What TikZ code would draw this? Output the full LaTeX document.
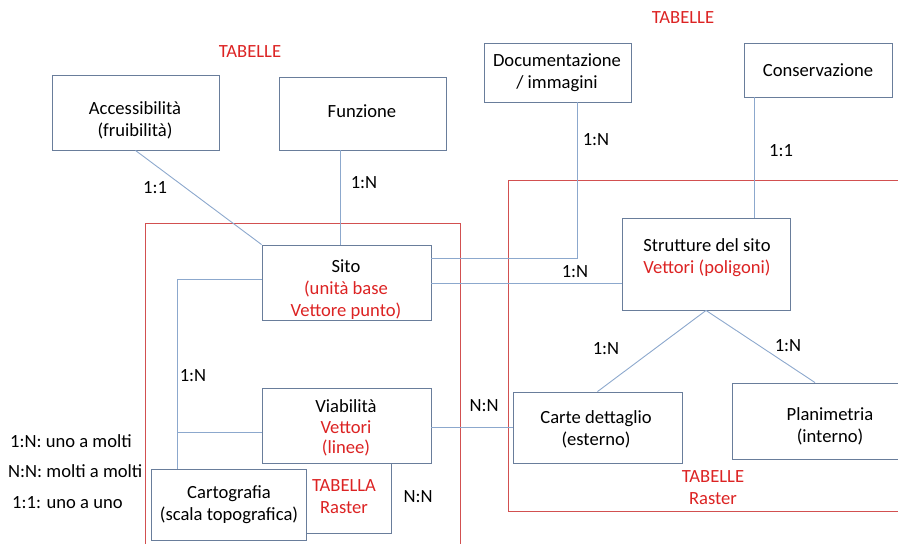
\documentclass[tikz,border=0pt]{standalone}
\usepackage{fontspec}
\setmainfont{Carlito}
\usetikzlibrary{positioning}
\definecolor{linkblue}{RGB}{140,168,205}
\definecolor{boxgray}{RGB}{105,125,155}
\definecolor{redline}{RGB}{210,80,80}
\definecolor{redtext}{RGB}{220,35,35}
\tikzset{
  box/.style={draw=boxgray, line width=0.9pt, rectangle, inner sep=0pt},
  txt/.style={align=center, inner sep=1pt, font=\fontsize{18.6}{22}\selectfont},
  rtxt/.style={txt, text=redtext},
  link/.style={draw=linkblue, line width=0.9pt},
  redbox/.style={draw=redline, line width=0.9pt}
}
\begin{document}
\begin{tikzpicture}[x=1pt, y=-1pt]
  \useasboundingbox (0,0) rectangle (898,544);
  % red frames
  \draw[redbox] (898,180.5) -- (508.5,180.5) -- (508.5,511.5) -- (898,511.5);
  \draw[redbox] (145.5,544) -- (145.5,223.5) -- (460.5,223.5) -- (460.5,544);

  % boxes
  \node[box, minimum width=167pt, minimum height=75pt] (access) at (135.5,112.5) {};
  \node[box, minimum width=167pt, minimum height=73pt] (funz) at (362.5,113.5) {};
  \node[box, minimum width=147pt, minimum height=59pt] (doc) at (557.5,72.5) {};
  \node[box, minimum width=148pt, minimum height=54pt] (cons) at (818,70) {};
  \node[box, minimum width=169pt, minimum height=75pt] (sito) at (346.5,282.5) {};
  \node[box, minimum width=168pt, minimum height=92pt] (strut) at (706,264) {};
  \node[box, minimum width=169pt, minimum height=75pt] (viab) at (346.5,425.5) {};
  \node[box, minimum width=169pt, minimum height=71pt] (carte) at (597.5,427.5) {};
  \node[box, minimum width=166pt, minimum height=76pt] (plan) at (815,421) {};
  \node[box, minimum width=155pt, minimum height=71pt, fill=white] (carto) at (228.5,504.5) {};

  % box texts
  \node[txt] (accesst) at (135,120) {Accessibilità\\(fruibilità)};
  \node[txt] (funzt) at (362,111) {Funzione};
  \node[txt] (doct) at (557,73) {Documentazione\\/ immagini};
  \node[txt] (const) at (818,70) {Conservazione};
  \node[txt] (sitot) at (346,290) {Sito\\{\color{redtext}(unità base}\\{\color{redtext}Vettore punto)}};
  \node[txt] (strutt) at (707,258) {Strutture del sito\\{\color{redtext}Vettori (poligoni)}};
  \node[txt, font=\fontsize{18.6}{20.5}\selectfont] (viabt) at (346,428) {Viabilità\\{\color{redtext}Vettori}\\{\color{redtext}(linee)}};
  \node[txt] (cartet) at (596,429) {Carte dettaglio\\(esterno)};
  \node[txt] (plant) at (830,426) {Planimetria\\(interno)};
  \node[txt] (cartot) at (229,505) {Cartografia\\(scala topografica)};

  % red labels
  \node[rtxt] (tabA) at (250,52) {TABELLE};
  \node[rtxt] (tabB) at (683,18) {TABELLE};
  \node[rtxt] (tabC) at (713,488) {TABELLE\\Raster};
  \node[rtxt] (tabD) at (344,497) {TABELLA\\Raster};

  % connectors
  \coordinate (fx) at (340,0);
  \coordinate (dx) at (577,258);
  \coordinate (cx) at (754,0);
  \coordinate (sy) at (0,283);
  \coordinate (lx) at (177,279);
  \coordinate (vy) at (0,432);
  \coordinate (rb) at (391,533);
  \draw[link] (access.south) -- (sito.north west);
  \draw[link] (funz.south -| fx) -- (sito.north -| fx);
  \draw[link] (doc.south -| dx) -- (dx) -- (sito.east |- dx);
  \draw[link] (cons.south -| cx) -- (strut.north -| cx);
  \draw[link] (sito.east |- sy) -- (strut.west |- sy);
  \draw[link] (strut.south) -- (carte.north);
  \draw[link] (strut.south) -- (plan.north);
  \draw[link] (viab.east |- carte.west) -- (carte.west);
  \draw[link] (sito.west |- lx) -- (lx) -- (carto.north -| lx);
  \draw[link] (viab.west |- vy) -- (lx |- vy);
  \draw[box] (carto.east |- rb) -- (rb) -- (rb |- viab.south);

  % cardinality labels
  \node[txt] (c1) at (155,188) {1:1};
  \node[txt] (c2) at (364,183) {1:N};
  \node[txt] (c3) at (596,140) {1:N};
  \node[txt] (c4) at (781,151) {1:1};
  \node[txt] (c5) at (575,272) {1:N};
  \node[txt] (c6) at (606,349) {1:N};
  \node[txt] (c7) at (788,346) {1:N};
  \node[txt] (c8) at (193,376) {1:N};
  \node[txt] (c9) at (484,406) {N:N};
  \node[txt] (c10) at (418,497) {N:N};

  % legend
  \node[txt, anchor=west] (leg1) at (9,441) {1:N: uno a molti};
  \node[txt, anchor=west] (leg2) at (7,471) {N:N: molti a molti};
  \node[txt, anchor=west] (leg3) at (11,503) {1:1: uno a uno};
\end{tikzpicture}
\end{document}
